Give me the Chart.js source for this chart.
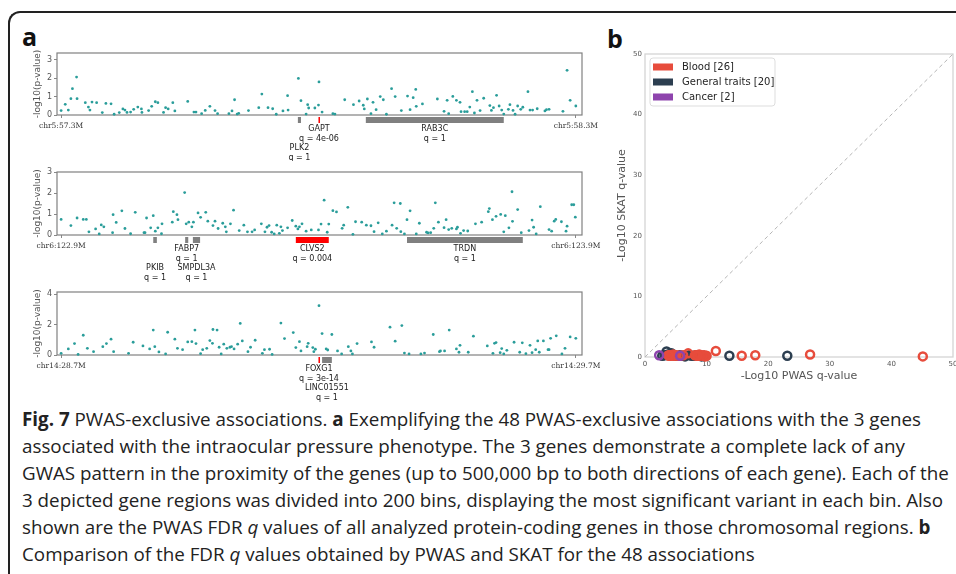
<!DOCTYPE html>
<html>
<head>
<meta charset="utf-8">
<script src="https://cdn.jsdelivr.net/npm/chart.js@4.4.1/dist/chart.umd.min.js"></script>
<style>
html, body { margin: 0; padding: 0; background: #fff; width: 956px; height: 574px; overflow: hidden; }
body { position: relative; font-family: 'Open Sans', sans-serif; }
#frame { position: absolute; left: 8px; top: 11px; width: 1000px; height: 700px; border-top: 2px solid #222; border-left: 2px solid #222; border-top-left-radius: 12px; }
.lab { position: absolute; font-family: 'Open Sans', sans-serif; font-weight: 700; font-size: 25px; line-height: 25px; color: #111; }
canvas { position: absolute; }
#caption { position: absolute; left: 22px; top: 406px; font-size: 18.8px; line-height: 27px; color: #222; white-space: nowrap; }
</style>
</head>
<body>
<div id="frame"></div>
<div class="lab" style="left:22px;top:24px">a</div>
<div class="lab" style="left:607px;top:26px">b</div>
<canvas id="chr5" width="615" height="120" style="left:0;top:41px"></canvas>
<canvas id="chr6" width="615" height="125" style="left:0;top:160px"></canvas>
<canvas id="chr14" width="615" height="122" style="left:0;top:280px"></canvas>
<canvas id="qq" width="366" height="370" style="left:600px;top:30px"></canvas>
<div id="caption">
<div><b>Fig. 7</b> PWAS-exclusive associations. <b>a</b> Exemplifying the 48 PWAS-exclusive associations with the 3 genes</div>
<div>associated with the intraocular pressure phenotype. The 3 genes demonstrate a complete lack of any</div>
<div>GWAS pattern in the proximity of the genes (up to 500,000 bp to both directions of each gene). Each of the</div>
<div>3 depicted gene regions was divided into 200 bins, displaying the most significant variant in each bin. Also</div>
<div>shown are the PWAS FDR <i>q</i> values of all analyzed protein-coding genes in those chromosomal regions. <b>b</b></div>
<div>Comparison of the FDR <i>q</i> values obtained by PWAS and SKAT for the 48 associations</div>
</div>
<script>
// ── panel a: variant positions (kb from region start) and -log10(p) ──
const chr5X = [0,8,14,19,22,30,31,47,53,56,60,69,80,87,97,103,113,120,124,128,135,141,149,156,157,170,176,183,188,199,203,208,217,221,246,258,262,273,280,289,299,304,326,332,337,342,345,364,384,390,402,411,418,431,440,441,461,466,476,479,481,493,500,501,
  507,528,532,551,568,579,587,589,595,602,606,612,620,626,632,642,649,661,673,678,684,689,690,702,731,744,750,753,761,768,775,777,784,789,794,799,803,808,814,821,833,836,840,846,851,856,860,869,872,878,882,887,893,897,907,911,916,925,940,943,948,975,983,989,1000];
const chr5Y = [0.24,0.58,0.27,0.89,1.43,2.06,0.89,0.67,0.43,0.27,0.70,0.67,0.13,0.63,0.61,0.04,0.13,0.33,0.27,0.14,0.16,0.31,0.43,0.33,0.14,0.24,0.47,0.72,0.67,0.14,0.40,0.33,0.67,0.22,0.74,0.16,0.16,0.07,0.25,0.47,0.24,0.07,0.07,0.22,0.83,0.05,0.09,0.24,0.40,1.14,0.40,0.34,0.04,0.22,1.05,0.27,1.99,0.78,0.05,0.56,0.38,0.38,0.54,1.80,
  0.16,0.07,0.05,0.83,0.56,0.76,0.53,0.33,0.87,0.07,0.69,0.29,1.00,0.83,0.04,1.43,1.00,0.24,1.03,0.29,0.94,1.39,0.47,0.60,0.87,0.20,0.80,0.07,1.01,0.80,0.69,0.18,0.18,0.18,0.43,1.27,0.11,0.80,0.24,0.91,0.51,0.25,0.40,1.07,0.49,0.27,0.05,0.31,0.56,0.25,0.04,0.49,0.31,0.42,1.27,0.27,0.27,0.34,0.22,0.29,0.31,0.20,2.43,0.80,0.49];
const chr5Ticks = [0, 1, 2, 3];
const chr5Ends = ['chr5:57.3M', 'chr5:58.3M'];
const chr5Genes = ['PLK2', 'GAPT', 'RAB3C'];
const chr5GeneStart = [460, 500, 592];
const chr5GeneEnd = [466, 502, 860];
const chr5GeneQ = ['1', '4e-06', '1'];

const chr6X = [0,19,31,43,49,54,67,74,78,83,100,101,107,118,124,135,144,161,163,166,174,179,183,188,195,196,216,218,225,227,240,243,248,254,257,266,271,281,285,295,299,305,314,319,321,329,335,346,355,362,371,376,389,396,400,404,409,414,419,424,427,430,440,449,456,460,463,468,476,486,500,
  505,511,517,520,528,535,546,549,557,567,572,584,593,602,608,616,624,632,643,647,652,659,660,667,672,678,690,696,710,713,718,724,727,733,744,748,753,759,768,770,776,782,790,805,817,830,832,838,845,854,860,863,870,876,877,887,894,909,915,918,923,931,948,953,958,961,972,981,983,992,996,999];
const chr6Y = [0.74,0.45,0.81,0.74,0.74,0.15,0.29,0.05,0.48,0.39,0.11,0.97,0.60,1.15,0.31,0.06,1.08,0.11,0.11,0.81,0.34,0.92,0.18,0.34,0.06,0.53,0.61,1.11,0.97,0.73,2.02,0.53,0.61,0.39,0.61,1.05,0.84,1.08,0.66,0.45,0.66,0.31,0.56,0.39,0.15,0.53,1.18,0.21,0.47,0.15,0.15,0.24,0.53,0.15,0.37,0.45,0.13,0.05,0.47,0.08,0.39,0.21,0.34,0.69,0.42,0.29,0.39,0.53,0.18,0.24,0.24,
  0.52,1.66,0.13,0.52,1.16,1.10,0.32,0.47,1.32,0.03,0.63,0.61,0.47,0.44,0.16,0.58,0.05,0.18,0.47,1.53,0.32,1.50,0.16,0.05,0.73,1.15,0.05,0.56,0.13,0.10,0.11,0.32,1.53,0.61,0.35,0.73,0.26,0.32,0.29,0.37,0.08,0.21,0.19,0.53,0.61,1.11,1.26,0.73,0.89,0.98,0.15,0.92,0.34,2.06,0.65,1.21,0.11,0.21,0.71,0.37,0.05,1.35,0.26,0.18,0.66,0.74,0.63,0.18,0.42,1.44,1.44,0.85];
const chr6Ticks = [0, 1, 2, 3];
const chr6Ends = ['chr6:122.9M', 'chr6:123.9M'];
const chr6Genes = ['PKIB', 'FABP7', 'SMPDL3A', 'CLVS2', 'TRDN'];
const chr6GeneStart = [179, 241, 256, 456, 672];
const chr6GeneEnd = [186, 247, 270, 520, 897];
const chr6GeneQ = ['1', '1', '1', '0.004', '1'];

const chr14X = [0,14,26,33,43,51,63,81,88,97,102,131,140,159,172,179,182,190,203,207,221,226,236,246,254,260,262,271,275,283,289,294,295,303,307,311,316,322,328,331,336,343,348,352,363,368,377,391,395,405,410,427,434,451,456,463,466,478,480,489,491,494,501,
  507,515,518,526,537,545,558,563,566,575,603,608,639,649,662,667,676,699,706,723,735,737,745,754,768,773,775,791,801,828,839,842,845,853,856,860,866,880,891,896,903,911,915,922,926,929,937,946,948,951,962,973,979,989,1000];
const chr14Y = [0.11,0.40,0.75,0.04,1.30,0.44,0.22,0.55,0.75,1.04,0.22,0.11,0.84,0.60,0.40,1.64,0.55,0.20,0.07,1.50,1.04,0.44,0.35,0.86,0.88,1.64,0.75,0.09,0.35,0.44,0.95,0.77,1.68,1.64,0.51,0.07,0.71,0.44,0.51,0.55,0.40,0.71,2.08,0.93,0.22,0.51,0.97,0.11,0.35,0.38,0.04,2.10,1.08,1.48,0.49,0.88,0.27,0.55,0.77,0.49,0.22,0.38,3.25,
  1.41,0.40,0.33,1.35,0.27,0.07,0.55,0.27,0.07,0.75,0.86,0.51,1.83,0.91,1.94,0.13,0.07,0.07,0.13,1.35,0.22,0.27,0.27,1.64,0.40,0.18,0.64,0.18,1.24,0.60,0.11,0.77,0.82,0.15,0.42,0.07,0.31,0.84,0.18,0.80,0.09,0.64,0.15,0.35,0.93,0.18,0.93,0.35,0.35,1.10,1.26,0.07,0.44,1.19,1.10];
const chr14Ticks = [0, 2, 4];
const chr14Ends = ['chr14:28.7M', 'chr14:29.7M'];
const chr14Genes = ['FOXG1', 'LINC01551'];
const chr14GeneStart = [500, 507];
const chr14GeneEnd = [502, 526];
const chr14GeneQ = ['3e-14', '1'];

// ── panel b: -log10 q, PWAS vs SKAT ──
const categories = ['Blood [26]', 'General traits [20]', 'Cancer [2]'];
const bloodPwas = [45.1,26.8,17.9,15.7,11.5,10.0,9.6,9.3,9.0,8.8,8.6,8.3,8.1,7.0,6.2,5.5,5.1,4.8,4.6,4.4,4.2,4.0,3.9,3.8,9.8,8.5];
const bloodSkat = [0.1,0.4,0.3,0.2,1.0,0.2,0.3,0.2,0.3,0.4,0.2,0.3,0.3,0.6,0.3,0.2,0.3,0.2,0.4,0.3,0.2,0.3,0.2,0.3,0.1,0.2];
const generalPwas = [23.1,13.7,3.5,3.2,2.8,3.7,4.1,4.5,5.0,5.6,6.0,6.5,7.2,7.6,8.0,8.4,8.9,9.2,9.5,4.3];
const generalSkat = [0.2,0.2,0.9,0.3,0.2,0.4,0.5,0.3,0.2,0.3,0.2,0.1,0.3,0.2,0.2,0.3,0.2,0.1,0.2,0.6];
const cancerPwas = [2.3, 5.7];
const cancerSkat = [0.3, 0.2];
const qqTicks = [0, 10, 20, 30, 40, 50];

const TEAL = '#2a9d9a';
const CAT_COLORS = ['#e74c3c', '#2c3e50', '#8e44ad'];
Chart.defaults.font.family = '"DejaVu Sans", sans-serif';

const framePlugin = {
  id: 'frame',
  beforeDatasetsDraw(chart, args, o) {
    const a = chart.chartArea, ctx = chart.ctx;
    ctx.save();
    ctx.strokeStyle = o.color; ctx.lineWidth = o.width;
    ctx.strokeRect(a.left, a.top, a.right - a.left, a.bottom - a.top);
    ctx.restore();
  }
};

// gene bars + labels under each locus plot
const genePlugin = {
  id: 'genes',
  afterDraw(chart, args, o) {
    if (!o.names) return;
    const { ctx, chartArea: a, scales: { x } } = chart;
    ctx.save();
    ctx.font = '8px "DejaVu Sans"';
    ctx.textAlign = 'center';
    ctx.textBaseline = 'middle';
    o.names.forEach((n, i) => {
      const x0 = x.getPixelForValue(o.start[i]), x1 = x.getPixelForValue(o.end[i]);
      const sig = parseFloat(o.q[i]) < 0.05;
      ctx.fillStyle = sig ? '#ff0000' : '#808080';
      ctx.fillRect(x0, a.bottom + 2, Math.max(x1 - x0, 1.5), 6);
      const cx = (x0 + x1) / 2, ty = a.bottom + (o.rows[i] ? 33 : 14);
      ctx.fillStyle = '#222';
      ctx.fillText(n, cx, ty);
      ctx.fillText('q = ' + o.q[i], cx, ty + 10);
    });
    ctx.restore();
  }
};

function locus(id, xs, ys, ymax, yticks, ends, genes, rows, xh) {
  return new Chart(document.getElementById(id), {
    type: 'scatter',
    data: { datasets: [{ data: xs.map((x, i) => ({ x, y: ys[i] })), pointRadius: 1.4, pointBorderWidth: 0, pointBackgroundColor: TEAL, clip: false }] },
    options: {
      responsive: false, animation: false,
      layout: { padding: { left: 30, top: 12, right: 33, bottom: 0 } },
      plugins: { legend: { display: false }, tooltip: { enabled: false },
        frame: { color: '#808080', width: 1.2 },
        genes: { names: genes[0], start: genes[1], end: genes[2], q: genes[3], rows } },
      scales: {
        x: { type: 'linear', min: -8, max: 1012,
          afterBuildTicks: s => { s.ticks = [{ value: 0 }, { value: 1000 }]; },
          afterFit: s => { s.height = xh; },
          ticks: { autoSkip: false, maxRotation: 0, padding: 4, color: '#333', font: { family: '"DejaVu Serif", serif', size: 7.5 },
            callback: v => v === 0 ? ends[0] : ends[1] },
          grid: { drawOnChartArea: false, tickLength: 3, color: '#888' }, border: { display: false } },
        y: { min: 0, max: ymax,
          afterBuildTicks: s => { s.ticks = yticks.map(v => ({ value: v })); },
          afterFit: s => { s.width = 27; },
          ticks: { padding: 2, color: '#555', font: { size: 8 } },
          grid: { drawOnChartArea: false, tickLength: 3, color: '#888' }, border: { display: false },
          title: { display: true, text: '-log10(p-value)', color: '#555', font: { size: 9 }, padding: { top: 2, bottom: 2 } } }
      }
    },
    plugins: [framePlugin, genePlugin]
  });
}

locus('chr5', chr5X, chr5Y, 3.37, chr5Ticks, chr5Ends, [chr5Genes, chr5GeneStart, chr5GeneEnd, chr5GeneQ], [1, 0, 0], 46);
locus('chr6', chr6X, chr6Y, 3.0, chr6Ticks, chr6Ends, [chr6Genes, chr6GeneStart, chr6GeneEnd, chr6GeneQ], [1, 0, 1, 0, 0], 50);
locus('chr14', chr14X, chr14Y, 4.15, chr14Ticks, chr14Ends, [chr14Genes, chr14GeneStart, chr14GeneEnd, chr14GeneQ], [0, 1], 47);

// legend box drawn inside the plot area
const boxLegend = {
  id: 'boxLegend',
  afterDraw(chart) {
    const { ctx, chartArea: a } = chart;
    const x = a.left + 5, y = a.top + 4;
    ctx.save();
    ctx.fillStyle = 'rgba(255,255,255,0.9)';
    ctx.strokeStyle = '#dddddd'; ctx.lineWidth = 1;
    ctx.beginPath(); ctx.roundRect(x, y, 125, 48, 3); ctx.fill(); ctx.stroke();
    ctx.font = '10px "DejaVu Sans"'; ctx.textBaseline = 'middle';
    categories.forEach((c, i) => {
      const cy = y + 9 + i * 15;
      ctx.fillStyle = CAT_COLORS[i];
      ctx.fillRect(x + 3, cy - 3.5, 20, 7);
      ctx.fillStyle = '#262626';
      ctx.fillText(c, x + 32, cy);
    });
    ctx.restore();
  }
};

const pts = (xs, ys) => xs.map((x, i) => ({ x, y: ys[i] }));
const ring = (label, xs, ys, color, order) => ({ label, data: pts(xs, ys), order, pointRadius: 4, pointBorderWidth: 2.5,
  pointBorderColor: color, pointBackgroundColor: 'rgba(255,255,255,0)', showLine: false, clip: false });
const qqAxis = (title, extra) => Object.assign({ min: 0, max: 50,
  afterBuildTicks: s => { s.ticks = qqTicks.map(v => ({ value: v })); },
  ticks: { color: '#555', font: { size: 7 }, padding: 3 },
  grid: { display: false, drawTicks: false, tickLength: 0 }, border: { display: false },
  title: { display: true, text: title, color: '#555', font: { size: 11 }, padding: { top: 2, bottom: 2 } } }, extra);

new Chart(document.getElementById('qq'), {
  type: 'scatter',
  data: { datasets: [
    ring(categories[0], bloodPwas, bloodSkat, CAT_COLORS[0], 1),
    ring(categories[1], generalPwas, generalSkat, CAT_COLORS[1], 2),
    ring(categories[2], cancerPwas, cancerSkat, CAT_COLORS[2], 0),
    { type: 'line', data: [{ x: 0, y: 0 }, { x: 50, y: 50 }], borderColor: '#b5b5b5', borderWidth: 1, borderDash: [4, 3], pointRadius: 0, order: 3 }
  ] },
  options: {
    responsive: false, animation: false,
    layout: { padding: { left: 14, top: 24, right: 13, bottom: 15 } },
    plugins: { legend: { display: false }, tooltip: { enabled: false }, frame: { color: '#d4d4d4', width: 1.3 } },
    scales: {
      x: qqAxis('-Log10 PWAS q-value', { type: 'linear', afterFit: s => { s.height = 28; } }),
      y: qqAxis('-Log10 SKAT q-value', { afterFit: s => { s.width = 31; } })
    }
  },
  plugins: [framePlugin, boxLegend]
});
</script>
</body>
</html>
